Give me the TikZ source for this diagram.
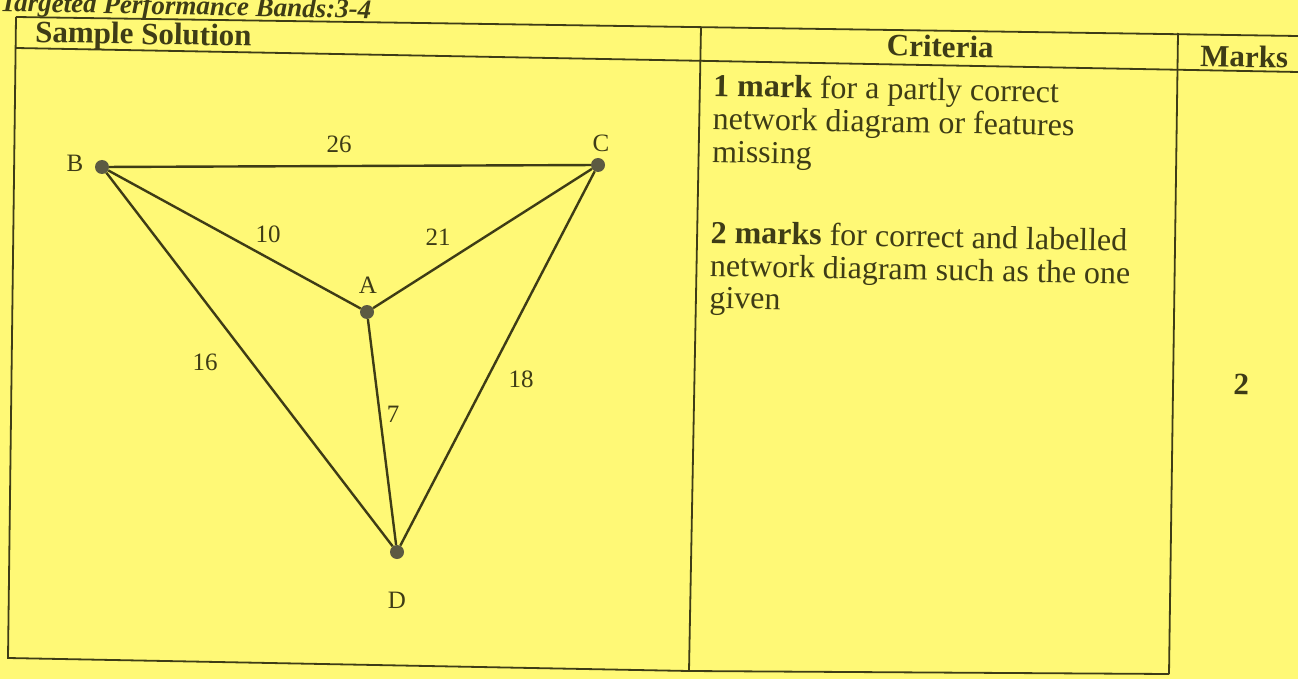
\documentclass[tikz,border=0pt]{standalone}
\usepackage{fontspec}
\setmainfont{Liberation Serif}
\definecolor{bg}{RGB}{255,249,118}
\definecolor{ink}{RGB}{62,60,22}
\definecolor{dotc}{RGB}{92,90,66}
\begin{document}
\begin{tikzpicture}[x=1pt,y=-1pt,
  rule/.style={draw=ink, line width=1.8pt},
  edge/.style={draw=ink, line width=2.4pt},
  vtx/.style={circle, fill=dotc, inner sep=0pt, minimum size=14pt},
  lbl/.style={text=ink, font=\fontsize{25}{27}\selectfont, inner sep=0pt},
  head/.style={text=ink, font=\fontsize{31}{33}\selectfont\bfseries, inner sep=0pt, rotate=-1.15},
  body/.style={text=ink, font=\fontsize{32}{34}\selectfont, inner sep=0pt, anchor=base west, rotate=-1.1}]
\useasboundingbox (0,0) rectangle (1298,679);
\fill[bg] (0,0) rectangle (1298,679);
\clip (0,0) rectangle (1298,679);
% title (cut off at the top)
\node[text=ink, inner sep=0pt, anchor=base west, rotate=-1.15,
      font=\fontsize{27}{30}\selectfont\bfseries\itshape] (title) at (0,11) {Targeted Performance Bands:3-4};
% table
\draw[rule] (16,17) -- (1298,36);
\draw[rule] (16,48) -- (1298,72);
\draw[rule] (16,17) -- (8,658) -- (689,671) -- (1169,674);
\draw[rule] (701,27) -- (689,671);
\draw[rule] (1178,33) -- (1169,674);
% headers
\node[head, anchor=base west] (hsol) at (35,42) {Sample Solution};
\node[head, anchor=base] (hcrit) at (940,57) {Criteria};
\node[head, anchor=base] (hmark) at (1244,67) {Marks};
% criteria text
\node[body] (c1) at (713,96) {\textbf{1 mark} for a partly correct};
\node[body] (c2) at (712.4,129) {network diagram or features};
\node[body] (c3) at (711.8,162) {missing};
\node[body] (c4) at (710.3,243) {\textbf{2 marks} for correct and labelled};
\node[body] (c5) at (709.7,276) {network diagram such as the one};
\node[body] (c6) at (709.1,308) {given};
\node[head, anchor=base] (m2) at (1241,395) {2};
% network
\node[vtx] (B) at (102,167) {};
\node[vtx] (C) at (598,165) {};
\node[vtx] (A) at (367,312) {};
\node[vtx] (D) at (397,552) {};
\draw[edge] (B) -- (C);
\draw[edge] (B) -- (A);
\draw[edge] (A) -- (C);
\draw[edge] (B) -- (D);
\draw[edge] (A) -- (D);
\draw[edge] (C) -- (D);
\node[lbl] (lB) at (75,163) {B};
\node[lbl] (lC) at (601,143) {C};
\node[lbl] (lA) at (368,285) {A};
\node[lbl] (lD) at (397,600) {D};
\node[lbl] (w26) at (339,144) {26};
\node[lbl] (w10) at (268,234) {10};
\node[lbl] (w21) at (438,237) {21};
\node[lbl] (w16) at (205,362) {16};
\node[lbl] (w18) at (521,379) {18};
\node[lbl] (w7) at (393,414) {7};
\end{tikzpicture}
\end{document}
